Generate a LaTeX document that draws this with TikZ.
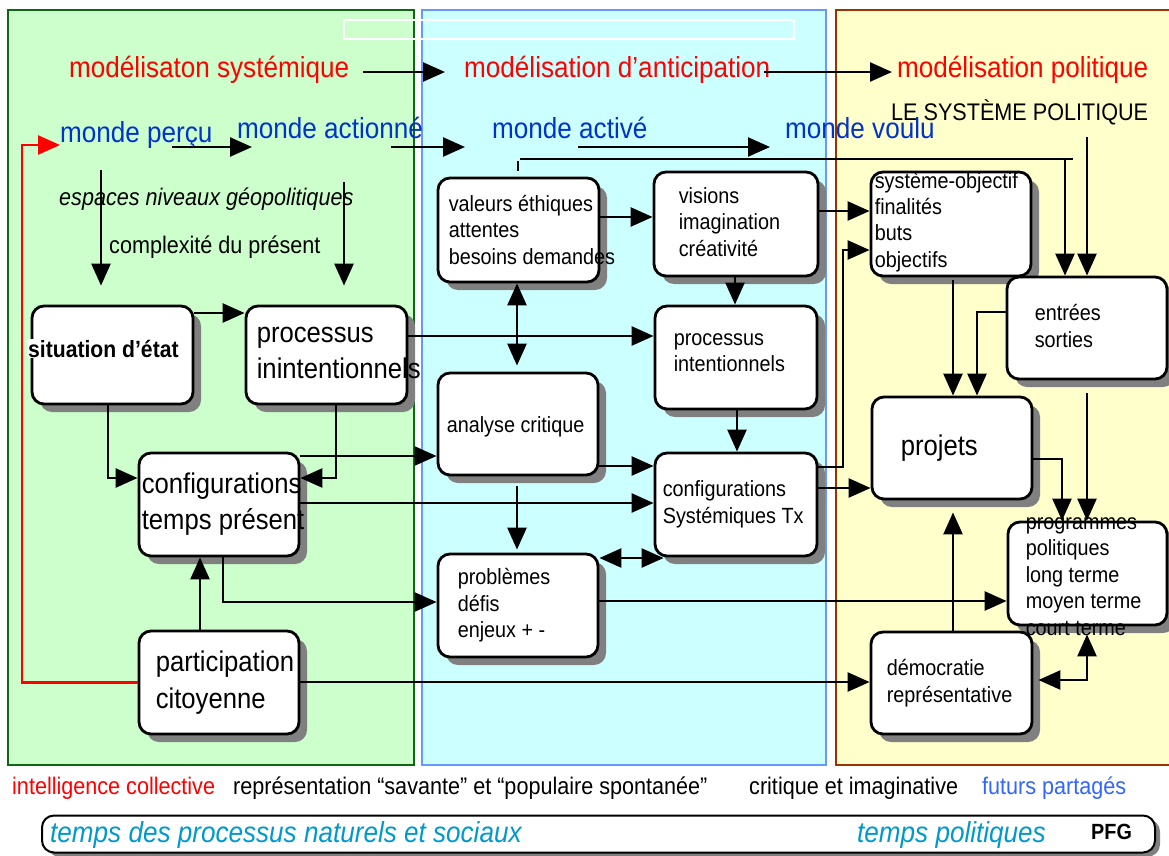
\documentclass[tikz,border=0pt]{standalone}
\usepackage{fontspec}
\setmainfont{Liberation Sans}[FakeStretch=0.9]
\usetikzlibrary{arrows.meta,shadows,calc}
\definecolor{gfill}{HTML}{CCFFCC}
\definecolor{gline}{HTML}{116611}
\definecolor{cfill}{HTML}{CCFFFF}
\definecolor{cline}{HTML}{6699FF}
\definecolor{yfill}{HTML}{FFFFCC}
\definecolor{yline}{HTML}{993300}
\definecolor{mblue}{HTML}{0033CC}
\definecolor{fblue}{HTML}{3366FF}
\definecolor{tblue}{HTML}{0099CC}
\definecolor{shade}{HTML}{808080}
\tikzset{
  box/.style={draw=black, line width=2.8pt, rounded corners=12pt, fill=white,
    drop shadow={shadow xshift=8pt, shadow yshift=-8pt, fill=shade, opacity=1}, inner sep=0pt},
  smtxt/.style={font=\fontsize{22}{26.5}\selectfont, align=left, inner sep=0pt, anchor=west},
  lgtxt/.style={font=\fontsize{28.5}{36}\selectfont, align=left, inner sep=0pt, anchor=west},
  lbl/.style={inner sep=0pt, anchor=base west},
  arr/.style={line width=2.5pt, -{Triangle[length=22pt,width=19pt]}},
  darr/.style={line width=2.5pt, {Triangle[length=22pt,width=19pt]}-{Triangle[length=22pt,width=19pt]}},
  ln/.style={line width=2.5pt},
}
\begin{document}
\begin{tikzpicture}[x=1pt,y=-1pt]
\useasboundingbox (0,0) rectangle (1169,855);
\fill[white] (0,0) rectangle (1169,855);
% panels
\filldraw[fill=gfill, draw=gline, line width=2.2pt] (8,10) rectangle (414,765);
\filldraw[fill=cfill, draw=cline, line width=2.2pt] (422,10) rectangle (826,765);
\filldraw[fill=yfill, draw=yline, line width=2.2pt] (836,10) rectangle (1180,765);
\draw[white, line width=2pt] (344,20) rectangle (794,39);

% titles
\node[lbl, red, font=\fontsize{29}{34}\selectfont] (t1) at (69,77) {modélisaton systémique};
\node[lbl, red, font=\fontsize{29}{34}\selectfont] (t2) at (464,77) {modélisation d’anticipation};
\node[lbl, red, font=\fontsize{29}{34}\selectfont] (t3) at (897,77) {modélisation politique};
\node[lbl, font=\fontsize{24}{28}\selectfont] (sys) at (891,120) {LE SYSTÈME POLITIQUE};
\node[lbl, mblue, font=\fontsize{29}{34}\selectfont] (m1) at (60,142) {monde perçu};
\node[lbl, mblue, font=\fontsize{29}{34}\selectfont] (m2) at (237,138) {monde actionné};
\node[lbl, mblue, font=\fontsize{29}{34}\selectfont] (m3) at (492,138) {monde activé};
\node[lbl, mblue, font=\fontsize{29}{34}\selectfont] (m4) at (785,138) {monde voulu};
\node[lbl, font=\itshape\fontsize{24}{28}\selectfont] (esp) at (59,205) {espaces niveaux géopolitiques};
\node[lbl, font=\fontsize{24}{28}\selectfont] (cpx) at (109,253) {complexité du présent};

% boxes left
\node[box, minimum width=161pt, minimum height=98pt] (sit) at (112.5,355) {};
\node[lbl, fill=white, inner sep=1pt, font=\bfseries\fontsize{23.5}{28}\selectfont] (sitt) at (27,357) {situation d’état};
\node[box, minimum width=161pt, minimum height=98pt] (pin) at (326.5,355) {};
\node[lgtxt] (pint_t) at ([xshift=12pt,yshift=2pt]pin.west) {processus\\inintentionnels};
\node[box, minimum width=160pt, minimum height=103pt] (cfg) at (219,504.5) {};
\node[lgtxt] (cfg_t) at ([xshift=4pt]cfg.west) {configurations\\temps présent};
\node[box, minimum width=160pt, minimum height=103pt] (par) at (219,682.5) {};
\node[lgtxt, font=\fontsize{28.5}{37}\selectfont] (par_t) at ([xshift=18pt]par.west) {participation\\citoyenne};

% boxes middle
\node[box, minimum width=161pt, minimum height=104pt] (val) at (518.5,230) {};
\node[smtxt] (val_t) at ([xshift=12pt]val.west) {valeurs éthiques\\attentes\\besoins demandes};
\node[box, minimum width=164pt, minimum height=104pt] (vis) at (736,224) {};
\node[smtxt] (vis_t) at ([xshift=26pt,yshift=2pt]vis.west) {visions\\imagination\\créativité};
\node[box, minimum width=162pt, minimum height=103pt] (pint) at (736,357.5) {};
\node[smtxt] (pint_tx) at ([xshift=20pt,yshift=5pt]pint.west) {processus\\intentionnels};
\node[box, minimum width=160pt, minimum height=102pt] (ana) at (518,424) {};
\node[smtxt] (ana_t) at ([xshift=10pt,yshift=-3pt]ana.west) {analyse critique};
\node[box, minimum width=162pt, minimum height=103pt] (ctx) at (736,504.5) {};
\node[smtxt] (ctx_t) at ([xshift=9pt]ctx.west) {configurations\\Systémiques Tx};
\node[box, minimum width=160pt, minimum height=103pt] (pro) at (518,605.5) {};
\node[smtxt] (pro_t) at ([xshift=21pt]pro.west) {problèmes\\défis\\enjeux + -};

% boxes right
\node[box, minimum width=160pt, minimum height=104pt] (obj) at (951,224) {};
\node[smtxt, font=\fontsize{22}{26.2}\selectfont] (obj_t) at ([xshift=5pt,yshift=2pt]obj.west) {système-objectif\\finalités\\buts\\objectifs};
\node[box, minimum width=160pt, minimum height=102pt] (ent) at (1087,328) {};
\node[smtxt] (ent_t) at ([xshift=29pt,yshift=2pt]ent.west) {entrées\\sorties};
\node[box, minimum width=160pt, minimum height=102pt] (prj) at (952,448) {};
\node[lgtxt] (prj_t) at ([xshift=30pt]prj.west) {projets};
\node[box, minimum width=159pt, minimum height=103pt] (prg) at (1087.5,573.5) {};
\node[smtxt] (prg_t) at ([xshift=19pt,yshift=-3pt]prg.west) {programmes\\politiques\\long terme\\moyen terme\\court terme};
\node[box, minimum width=161pt, minimum height=102pt] (dem) at (951.5,683) {};
\node[smtxt] (dem_t) at ([xshift=17pt]dem.west) {démocratie\\représentative};

% bottom labels
\node[lbl, red, font=\fontsize{24}{28}\selectfont] (ic) at (12,794) {intelligence collective};
\node[lbl, font=\fontsize{24}{28}\selectfont] (rep) at (233,794) {représentation “savante” et “populaire spontanée”};
\node[lbl, font=\fontsize{24}{28}\selectfont] (cri) at (749,794) {critique et imaginative};
\node[lbl, fblue, font=\fontsize{24}{28}\selectfont] (fut) at (982,794) {futurs partagés};

\node[draw=black, line width=2pt, rounded corners=12pt, fill=white,
  drop shadow={shadow xshift=5pt, shadow yshift=-4pt, fill=shade, opacity=1},
  minimum width=1113pt, minimum height=37pt, inner sep=0pt] (bar) at (598.5,834) {};
\node[lbl, tblue, font=\itshape\fontsize{29}{34}\selectfont] (tp1) at (50,842) {temps des processus naturels et sociaux};
\node[lbl, tblue, font=\itshape\fontsize{29}{34}\selectfont] (tp2) at (857,842) {temps politiques};
\node[lbl, font=\bfseries\fontsize{22}{26}\selectfont] (pfg) at (1091,839) {PFG};

% named free ends
\coordinate (a1s) at (172,147); \coordinate (a1e) at (252,147);
\coordinate (a2s) at (391,147); \coordinate (a2e) at (465,147);
\coordinate (a3s) at (578,147); \coordinate (a3e) at (770,147);
\coordinate (v1s) at (101,170); \coordinate (v2s) at (344,182);
\coordinate (hl0) at (520,159); \coordinate (hl1) at (1073,159); \coordinate (hl2) at (1065,159);

% title arrows
\draw[arr, shorten <=14pt, shorten >=19pt] (t1.east |- 0,72) -- (t2.west |- 0,72);
\draw[arr, shorten <=-7pt, shorten >=5pt] (t2.east |- 0,72) -- (t3.west |- 0,72);
% monde arrows
\draw[arr] (a1s) -- (a1e);
\draw[arr] (a2s) -- (a2e);
\draw[arr] (a3s) -- (a3e);
\draw[arr, shorten >=19pt] (v1s) -- (sit.north -| v1s);
\draw[arr, shorten >=19pt] (v2s) -- (pin.north -| v2s);
% red feedback
\draw[red, line width=2.5pt, -{Triangle[length=22pt,width=19pt]}] (par.west) -| (22,400) |- (m1.west |- 0,145);

% left column
\draw[arr] (sit.east |- 0,313) -- (pin.west |- 0,313);
\draw[arr] (sit.south -| 108,0) |- (cfg.west |- 0,478);
\draw[arr] (pin.south -| 336,0) |- (cfg.east |- 0,478);
\draw[arr] (par.north -| 200,0) -- (cfg.south -| 200,0);
\draw[arr] (cfg.east |- 0,456) -- (ana.west |- 0,456);
\draw[arr] (cfg.east |- 0,503) -- (ctx.west |- 0,503);
\draw[arr] (cfg.south -| 223,0) |- (pro.west |- 0,602);
\draw[arr] (par.east |- 0,682) -- (dem.west |- 0,682);
\draw[arr] (pin.east |- 0,336) -- (pint.west |- 0,336);

% middle column
\draw[ln] (val.north -| 518,0) ++(0,-6) -- ++(0,-10);
\draw[ln] (hl0) -- (hl1);
\draw[arr] (hl2) -- (ent.north -| hl2);
\draw[darr, shorten >=6pt] (val.south -| 517,0) -- (ana.north -| 517,0);
\draw[arr] (val.east |- 0,217) -- (vis.west |- 0,217);
\draw[arr] (vis.east |- 0,211) -- (obj.west |- 0,211);
\draw[arr] (vis.south -| 735,0) -- (pint.north -| 735,0);
\draw[arr] (pint.south -| 737,0) -- (ctx.north -| 737,0);
\draw[arr] (ana.east |- 0,466) -- (ctx.west |- 0,466);
\draw[arr, shorten <=10pt, shorten >=3pt] (ana.south -| 517,0) -- (pro.north -| 517,0);
\draw[darr] (pro.east |- 0,558) -- ([xshift=10pt]ctx.south west |- 0,558);
\draw[arr] (pro.east |- 0,601) -- (prg.west |- 0,601);
\draw[arr] (ctx.east |- 0,467) -| (843,300) |- (obj.west |- 0,250);
\draw[arr] (ctx.east |- 0,488) -- (prj.west |- 0,488);

% right column
\draw[arr, shorten <=12pt] (sys.south -| 1087,0) -- (ent.north -| 1087,0);
\draw[arr, shorten <=3pt] (obj.south -| 953,0) -- (prj.north -| 953,0);
\draw[arr] (ent.west |- 0,312) -| (prj.north -| 977,0);
\draw[arr] (prj.east |- 0,459) -| (prg.north -| 1062,0);
\draw[arr, shorten <=13pt] (ent.south -| 1087,0) -- (prg.north -| 1087,0);
\draw[arr, shorten >=12pt] (dem.north -| 953,0) -- (prj.south -| 953,0);
\draw[darr, shorten >=8pt, shorten <=5pt] (dem.east |- 0,680) -| (prg.south -| 1087,0);
\end{tikzpicture}
\end{document}
